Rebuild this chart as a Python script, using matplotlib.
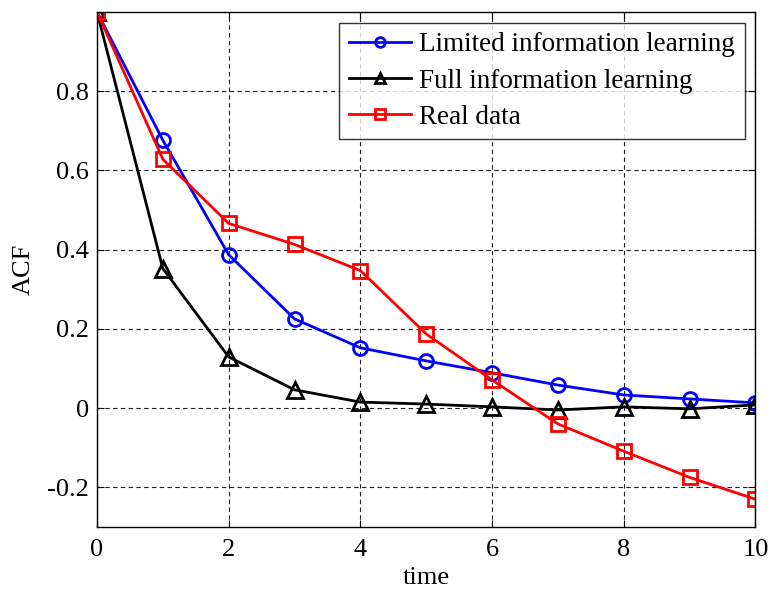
import numpy as np
import matplotlib
matplotlib.use('Agg')
import matplotlib.pyplot as plt

plt.rcParams['font.family'] = ['Liberation Serif', 'DejaVu Serif']
plt.rcParams['mathtext.fontset'] = 'stix'

# data
t = list(range(0, 11))
limited = [1.0, 0.676, 0.387, 0.225, 0.152, 0.119, 0.089, 0.058, 0.033, 0.023, 0.013]
full = [1.0, 0.352, 0.129, 0.046, 0.015, 0.010, 0.003, -0.005, 0.003, -0.002, 0.008]
real = [1.0, 0.628, 0.466, 0.413, 0.347, 0.187, 0.071, -0.040, -0.109, -0.175, -0.230]

fig = plt.figure(figsize=(7.7, 5.94), dpi=100)
ax = fig.add_axes([0.126, 0.113, 0.855, 0.867])

ax.plot(t, limited, color='#0000ff', lw=2, marker='o', ms=10, mfc='none', mew=2,
        label='Limited information learning')
ax.plot(t, full, color='black', lw=2, marker='^', ms=11, mfc='none', mew=2,
        label='Full information learning')
ax.plot(t, real, color='#ff0000', lw=2, marker='s', ms=10, mfc='none', mew=2,
        label='Real data')

ax.set_xlim(0, 10)
ax.set_ylim(-0.3, 1.0)
ax.set_xticks([0, 2, 4, 6, 8, 10])
ax.set_yticks([-0.2, 0, 0.2, 0.4, 0.6, 0.8])
ax.set_yticklabels(['-0.2', '0', '0.2', '0.4', '0.6', '0.8'])
ax.grid(True, color='#222222', linestyle=(0, (4, 3)), linewidth=0.8)
ax.tick_params(direction='in', top=True, right=True, labelsize=19, length=5, pad=6)
ax.tick_params(axis='x', pad=9)
for s in ax.spines.values():
    s.set_linewidth(1)
ax.set_xlabel('time', fontsize=19, labelpad=4)
ax.set_ylabel('ACF', fontsize=19, labelpad=9)

leg = ax.legend(loc='upper right', fontsize=19.5, frameon=True, fancybox=False,
                edgecolor='black', handlelength=2.3, borderaxespad=0.4,
                labelspacing=0.42, handletextpad=0.3, borderpad=0.35)
leg.get_frame().set_linewidth(1)
for h in leg.legend_handles:
    h.set_markersize(7)

fig.savefig('out.png', dpi=100)
